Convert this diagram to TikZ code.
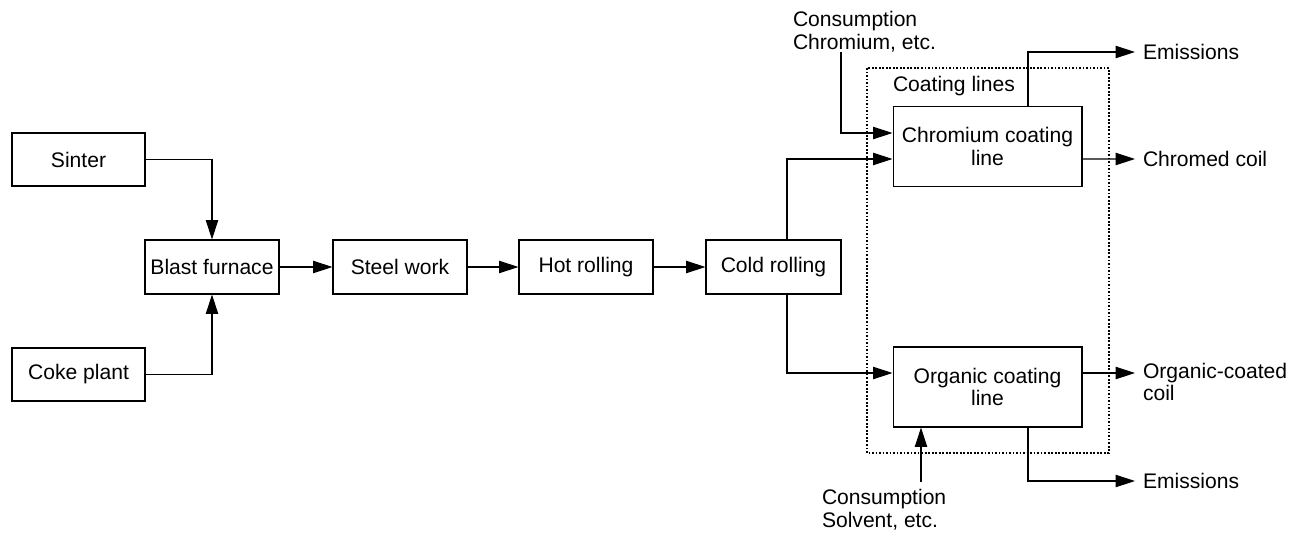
\documentclass[tikz,border=0pt]{standalone}
\usepackage{fontspec}
\setmainfont{Liberation Sans}
\usetikzlibrary{arrows.meta,calc}

\begin{document}
\begin{tikzpicture}[x=0.02cm, y=-0.02cm,
	font=\fontsize{12pt}{13pt}\selectfont,
	box/.style={draw, line width=0.6pt, align=center, inner sep=0pt, minimum width=2.68cm, minimum height=1.08cm},
	bigbox/.style={box, minimum width=3.78cm, minimum height=1.59cm},
	lbl/.style={align=left, inner sep=0pt, outer sep=0.16cm, anchor=west},
	arr/.style={line width=0.6pt, -{Triangle[length=11pt,width=7pt]}},
	line/.style={line width=0.6pt}]
	%%%%% START %%%%%
	
	\useasboundingbox (0, 0) rectangle (1301, 534);
	
	% raw materials and route
	\node[box, minimum width=2.66cm, minimum height=1.06cm] (sinter) at (78.5, 159.5) {Sinter};
	\node[box, minimum width=2.66cm, minimum height=1.06cm] (coke) at (78.5, 374.5) {Coke plant};
	\node[box] (blast) at (212, 267) {Blast furnace};
	\node[box] (steel) at (400, 267) {Steel work};
	\node[box] (hot) at (586, 267) {Hot rolling};
	\node[box, minimum width=2.7cm] (cold) at (773.5, 267) {Cold rolling};
	
	% coating lines
	\draw[line, dash pattern=on 1pt off 1pt] (867, 68) rectangle (1109, 453);
	\node[lbl, outer sep=0pt] (coatlbl) at (893, 86) {Coating lines};
	\node[bigbox] (chrom) at (987.5, 146.5) {Chromium coating\\line};
	\node[bigbox, minimum height=1.6cm] (organic) at (987.5, 387) {Organic coating\\line};
	
	% inputs and outputs
	\node[lbl, outer sep=0pt] (cons1) at (793, 31.5) {Consumption\\Chromium, etc.};
	\node[lbl, outer sep=0pt] (cons2) at (822, 510) {Consumption\\Solvent, etc.};
	\coordinate (c1) at (841, 52);
	\coordinate (c2) at (921, 482);
	\node[lbl] (emis1) at (1135, 52) {Emissions};
	\node[lbl] (coil1) at (1135, 159) {Chromed coil};
	\node[lbl] (coil2) at (1135, 382) {Organic-coated\\coil};
	\node[lbl] (emis2) at (1135, 481) {Emissions};
	
	% connectors
	\draw[arr] (sinter) -| (blast);
	\draw[arr] (coke) -| (blast);
	\draw[arr] (blast) -- (steel);
	\draw[arr] (steel) -- (hot);
	\draw[arr] (hot) -- (cold);
	\draw[arr] ([xshift=0.27cm]cold.north) |- ([yshift=-0.25cm]chrom.west);
	\draw[arr] ([xshift=0.27cm]cold.south) |- ([yshift=0.28cm]organic.west);
	\draw[arr] (c1) |- ([yshift=0.27cm]chrom.west);
	\draw[arr] (c2) -- (c2 |- organic.south);
	\draw[arr] ([xshift=0.81cm]chrom.north) |- (emis1.west);
	\draw[arr] ([yshift=-0.25cm]chrom.east) -- (coil1.west);
	\draw[arr] ([yshift=0.28cm]organic.east) -- ([yshift=0.28cm]organic.east -| coil2.west);
	\draw[arr] ([xshift=0.81cm]organic.south) |- (emis2.west);
	
	%%%%% END %%%%%
\end{tikzpicture}
\end{document}
